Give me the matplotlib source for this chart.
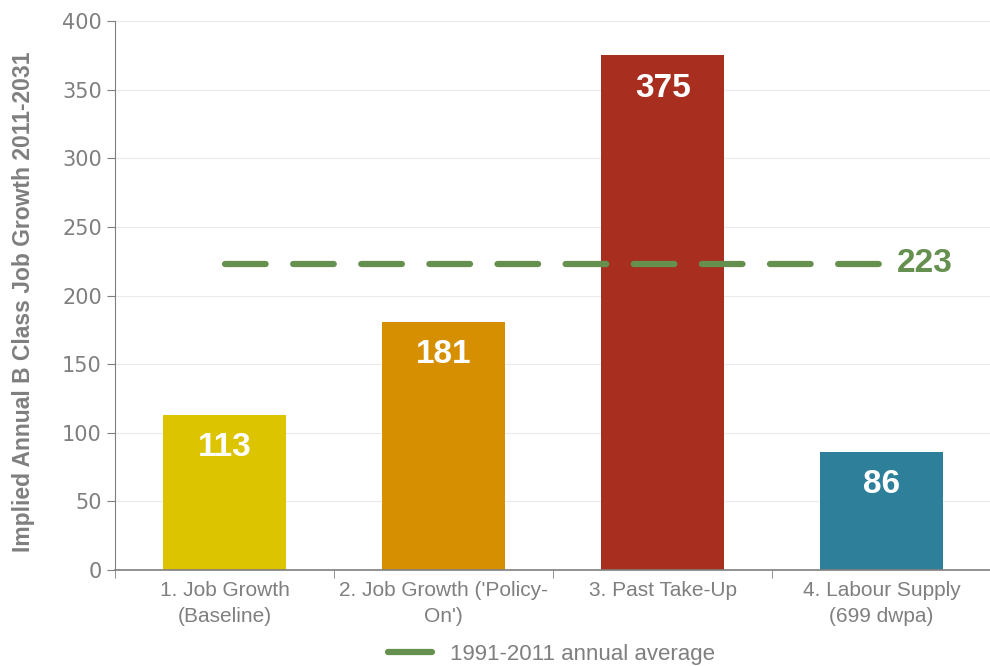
import matplotlib.pyplot as plt
from matplotlib.lines import Line2D

# data
categories = ["1. Job Growth\n(Baseline)", "2. Job Growth ('Policy-\nOn')",
              "3. Past Take-Up", "4. Labour Supply\n(699 dwpa)"]
values = [113, 181, 375, 86]
bar_colors = ['#DCC500', '#D68F00', '#A82E1F', '#2E7F9A']
average = 223
avg_label = "1991-2011 annual average"

narrow = ['Liberation Sans', 'DejaVu Sans']
grey = '#7f7f7f'
green = '#66904F'

fig = plt.figure(figsize=(9.9, 6.66), dpi=100)
ax = fig.add_axes([0.1162, 0.1441, 0.885, 0.8244])

x = range(len(values))
ax.bar(x, values, width=0.56, color=bar_colors, zorder=2)

for xi, v in zip(x, values):
    ax.text(xi, v - 24, str(v), ha='center', va='center', color='white',
            fontsize=24, fontweight='bold', family=narrow, zorder=4)

ax.plot([0, 3], [average, average], color=green, lw=4.5, ls=(0, (6.5, 4.4)),
        dash_capstyle='round', zorder=3)
ax.text(3.07, average, str(average), color=green, fontsize=24, fontweight='bold',
        family=narrow, va='center', ha='left')

ax.set_xlim(-0.5, 3.5)
ax.set_ylim(0, 400)
ax.set_yticks(range(0, 401, 50))
ax.yaxis.grid(True, color='#ebebeb', lw=0.8, zorder=0)
ax.set_axisbelow(True)

ax.set_xticks(x)
ax.set_xticklabels(categories, family=narrow, fontsize=15, color=grey,
                   linespacing=1.45)
ax.set_xticks([-0.5, 0.5, 1.5, 2.5, 3.5], minor=True)
ax.tick_params(axis='x', which='major', length=0, pad=8)
ax.tick_params(axis='x', which='minor', length=6, color=grey)
ax.tick_params(axis='y', length=6, color=grey, labelcolor=grey, labelsize=15)
for lbl in ax.get_yticklabels():
    lbl.set_family('DejaVu Sans')

for s in ['top', 'right']:
    ax.spines[s].set_visible(False)
ax.spines['left'].set_color(grey)
ax.spines['bottom'].set_color(grey)
ax.spines['bottom'].set_linewidth(1.2)

ax.set_ylabel("Implied Annual B Class Job Growth 2011-2031", fontsize=16.5,
              fontweight='bold', color=grey, family=narrow)
ax.yaxis.set_label_coords(-0.091, 0.488)

handle = Line2D([], [], color=green, lw=4.5, solid_capstyle='round')
fig.legend([handle], [avg_label], loc='lower center', bbox_to_anchor=(0.557, -0.028),
           frameon=False, prop={'family': narrow, 'size': 16}, labelcolor=grey,
           handlelength=2.0)

fig.savefig('out.png', dpi=100)
